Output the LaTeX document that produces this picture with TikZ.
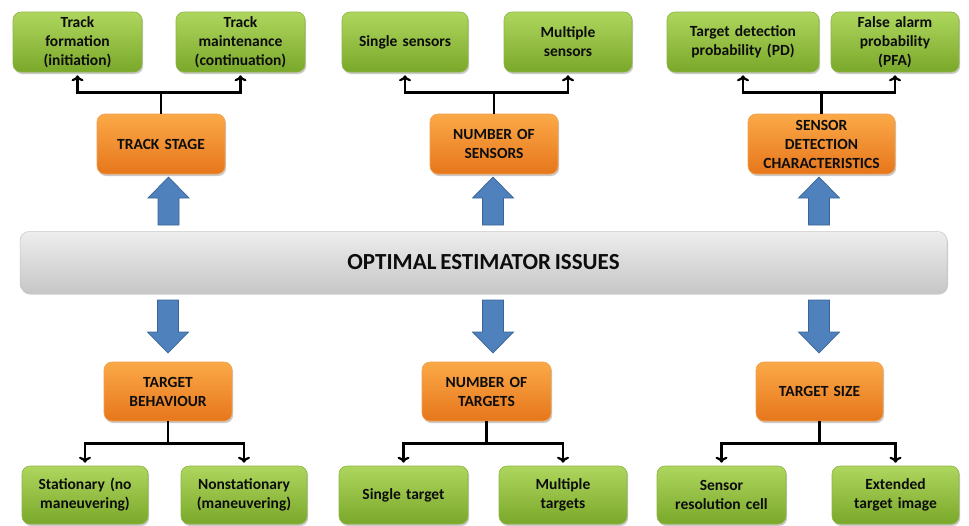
\documentclass[tikz,border=0pt]{standalone}
\usepackage{fontspec}
\setmainfont{Carlito}
\usetikzlibrary{shadows,calc,arrows.meta}
\definecolor{gtop}{HTML}{AED65E}
\definecolor{gbot}{HTML}{7AA82A}
\definecolor{gline}{HTML}{8DB443}
\definecolor{otop}{HTML}{FBA948}
\definecolor{obot}{HTML}{E6761B}
\definecolor{oline}{HTML}{F0A050}
\definecolor{bfill}{HTML}{4F81BD}
\definecolor{bline}{HTML}{3A6496}
\definecolor{txt}{HTML}{0D0D0D}
\tikzset{
  x=1pt, y=-1pt,
  basebox/.style={rounded corners=8pt, align=center, inner sep=2pt, text=txt,
    font=\fontsize{15.5}{19}\selectfont\bfseries,
    drop shadow={shadow xshift=1.2pt, shadow yshift=-2pt, opacity=0.35, fill=black!60}},
  gbox/.style={basebox, draw=gline, line width=0.6pt, top color=gtop, bottom color=gbot,
    minimum height=60pt, text width=#1-8pt, minimum width=#1},
  obox/.style={basebox, draw=oline, line width=0.6pt, top color=otop, bottom color=obot,
    minimum height=60pt, text width=#1-6pt, minimum width=#1},
  trunk/.style={line width=2.6pt, black},
  conn/.style={line width=2.6pt, black, -{To[length=6pt,width=12pt,line width=2.2pt]}, shorten >=3pt},
  bluearrow/.style={fill=bfill, draw=bline, line width=0.7pt, line join=miter},
}
\begin{document}
\begin{tikzpicture}
\useasboundingbox (0,0) rectangle (969,525);
% central bar
\node[rounded corners=9pt, minimum width=927pt, minimum height=61pt, draw=gray!45, line width=0.5pt,
  top color=black!7, bottom color=black!22, text=txt,
  drop shadow={shadow xshift=1pt, shadow yshift=-2pt, opacity=0.35, fill=black!60},
  font=\fontsize{23}{27}\selectfont\bfseries, inner sep=0pt] (bar) at (483.5,262) {OPTIMAL\,ESTIMATOR\,ISSUES};

% top row
\node[gbox=129pt] (tf) at (77.5,42) {Track\\formation\\(initiation)};
\node[gbox=129pt] (tm) at (240.5,42) {Track\\maintenance\\(continuation)};
\node[gbox=126pt] (ss) at (405,42) {Single sensors};
\node[gbox=128pt] (ms) at (568,42) {Multiple\\sensors};
\node[gbox=152pt] (pd) at (743,42) {Target detection\\probability (PD)};
\node[gbox=128pt] (pfa) at (895,42) {False alarm\\probability\\(PFA)};

\node[obox=128pt] (ts) at (161,144) {TRACK STAGE};
\node[obox=128pt] (ns) at (494,144) {NUMBER OF\\SENSORS};
\node[obox=147pt] (sdc) at (821.5,144) {SENSOR\\DETECTION\\CHARACTERISTICS};

% bottom row
\node[obox=128pt, minimum height=59pt] (tb) at (168,391.5) {TARGET\\BEHAVIOUR};
\node[obox=129pt, minimum height=59pt] (nt) at (486.5,391.5) {NUMBER OF\\TARGETS};
\node[obox=127pt, minimum height=59pt] (tsz) at (819.5,391.5) {TARGET SIZE};

\node[gbox=126pt, minimum height=58pt] (st) at (85,495) {Stationary (no\\maneuvering)};
\node[gbox=126pt, minimum height=58pt] (nst) at (244,495) {Nonstationary\\(maneuvering)};
\node[gbox=129pt, minimum height=58pt] (sgt) at (403.5,495) {Single target};
\node[gbox=128pt, minimum height=58pt] (mt) at (563,495) {Multiple\\targets};
\node[gbox=129pt, minimum height=58pt] (src) at (721.5,495) {Sensor\\resolution cell};
\node[gbox=127pt, minimum height=58pt] (eti) at (895.5,495) {Extended\\target image};

% tree connectors (top)
\foreach \p/\a/\b in {ts/tf/tm, ns/ss/ms, sdc/pd/pfa}{
  \coordinate (\p-j) at ($(\p.north)+(0,-21)$);
  \draw[trunk] (\p.north) -- (\p-j);
  \draw[conn] (\p-j) -| (\a.south);
  \draw[conn] (\p-j) -| (\b.south);
}
% tree connectors (bottom)
\foreach \p/\a/\b in {tb/st/nst, nt/sgt/mt, tsz/src/eti}{
  \coordinate (\p-j) at ($(\p.south)+(0,22)$);
  \draw[trunk] (\p.south) -- (\p-j);
  \draw[conn] (\p-j) -| (\a.north);
  \draw[conn] (\p-j) -| (\b.north);
}

% blue block arrows up (bar -> top categories)
\foreach \p/\cx in {ts/168.5, ns/493, sdc/819}{
  \draw[bluearrow] (\cx-10.5,225) -- (\cx-10.5,198) -- (\cx-20.5,198) -- (\cx,177)
     -- (\cx+20.5,198) -- (\cx+10.5,198) -- (\cx+10.5,225) -- cycle;
}
% blue block arrows down (bar -> bottom categories)
\foreach \p/\cx in {tb/168, nt/493, tsz/819}{
  \draw[bluearrow] (\cx-10.5,300) -- (\cx-10.5,332) -- (\cx-20.5,332) -- (\cx,353)
     -- (\cx+20.5,332) -- (\cx+10.5,332) -- (\cx+10.5,300) -- cycle;
}
\end{tikzpicture}
\end{document}
